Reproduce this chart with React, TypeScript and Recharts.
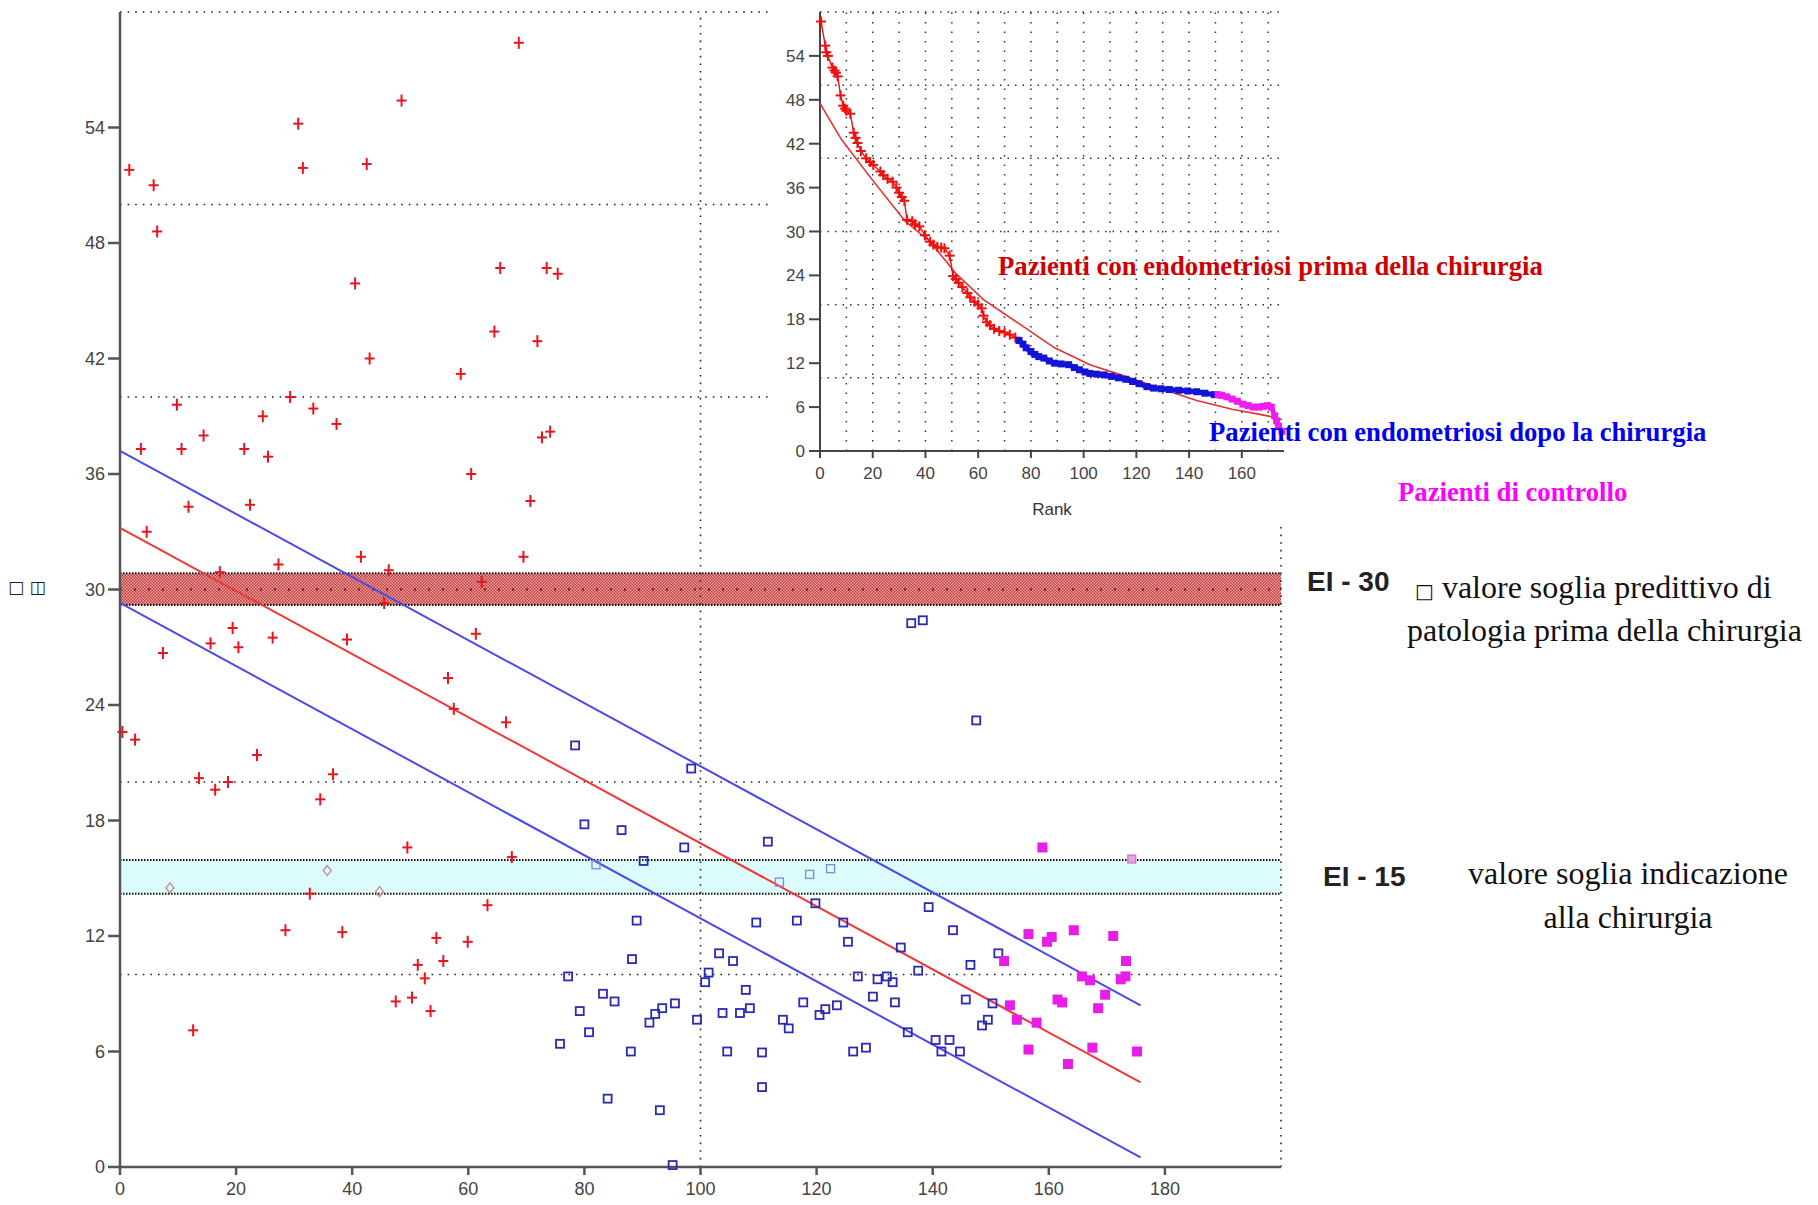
import React from 'react';
import { ScatterChart, Scatter, XAxis, YAxis, ReferenceLine, ReferenceArea } from 'recharts';

type Pt = { x: number; y: number };
const pts = (rows: number[][]): Pt[] => rows.map(([x, y]) => ({ x, y }));

// main plot: patients before surgery (red crosses)
const preSurgery = pts([
  [1.6, 51.8], [5.8, 51.0], [6.4, 48.6], [30.7, 54.2], [31.5, 51.9], [42.5, 52.1], [48.5, 55.4],
  [68.7, 58.4], [40.5, 45.9], [65.5, 46.7], [73.5, 46.7], [75.4, 46.4], [64.5, 43.4], [71.9, 42.9],
  [43.0, 42.0], [58.7, 41.2], [9.8, 39.6], [29.3, 40.0], [37.3, 38.6], [24.6, 39.0], [33.3, 39.4],
  [14.4, 38.0], [3.6, 37.3], [10.6, 37.3], [21.4, 37.3], [25.5, 36.9], [72.7, 37.9], [74.1, 38.2],
  [60.5, 36.0], [11.8, 34.3], [22.4, 34.4], [70.7, 34.6], [4.6, 33.0], [41.5, 31.7], [69.5, 31.7],
  [27.3, 31.3], [17.2, 30.9], [46.3, 31.0], [62.3, 30.4], [45.5, 29.3], [7.4, 26.7], [15.6, 27.2],
  [19.4, 28.0], [20.4, 27.0], [26.3, 27.5], [39.1, 27.4], [61.3, 27.7], [56.5, 25.4], [57.5, 23.8],
  [66.5, 23.1], [0.4, 22.6], [2.6, 22.2], [23.6, 21.4], [13.6, 20.2], [16.4, 19.6], [18.6, 20.0],
  [36.7, 20.4], [34.5, 19.1], [49.5, 16.6], [67.5, 16.1], [63.3, 13.6], [28.5, 12.3], [38.3, 12.2],
  [54.5, 11.9], [59.9, 11.7], [51.3, 10.5], [55.7, 10.7], [52.5, 9.8], [47.5, 8.6], [50.3, 8.8],
  [53.5, 8.1], [12.6, 7.1], [32.7, 14.2],
]);

// patients after surgery (blue open squares)
const postSurgery = pts([
  [78.4, 21.9], [98.4, 20.7], [80.0, 17.8], [86.4, 17.5], [97.2, 16.6], [111.6, 16.9], [89.0, 12.8],
  [109.6, 12.7], [116.6, 12.8], [119.8, 13.7], [124.6, 12.7], [125.4, 11.7], [134.5, 11.4], [139.3, 13.5],
  [143.5, 12.3], [88.2, 10.8], [77.2, 9.9], [103.2, 11.1], [105.6, 10.7], [100.8, 9.6], [101.4, 10.1],
  [107.8, 9.2], [83.2, 9.0], [85.2, 8.6], [79.2, 8.1], [80.8, 7.0], [75.8, 6.4], [88.0, 6.0],
  [91.2, 7.5], [92.2, 7.95], [93.4, 8.25], [95.6, 8.5], [99.4, 7.65], [103.8, 8.0], [104.6, 6.0],
  [106.8, 8.0], [108.5, 8.25], [110.6, 5.95], [114.2, 7.65], [115.2, 7.2], [117.7, 8.55], [120.5, 7.9],
  [121.5, 8.2], [123.5, 8.4], [126.3, 6.0], [128.5, 6.2], [127.1, 9.9], [129.7, 8.85], [130.5, 9.75],
  [132.1, 9.9], [133.1, 9.6], [133.5, 8.55], [135.7, 7.0], [137.5, 10.2], [140.5, 6.6], [141.5, 6.0],
  [142.9, 6.6], [144.7, 6.0], [145.7, 8.7], [146.5, 10.5], [148.5, 7.35], [149.5, 7.65], [150.3, 8.5],
  [151.3, 11.1], [110.6, 4.15], [84.0, 3.55], [93.0, 2.95], [95.2, 0.1], [136.3, 28.25], [138.3, 28.4],
  [147.5, 23.2], [90.2, 15.9],
]);

// control patients (magenta filled squares)
const controls = pts([
  [158.9, 16.6], [156.5, 12.1], [159.7, 11.7], [160.5, 11.95], [164.3, 12.3], [171.1, 12.0], [152.3, 10.7],
  [173.3, 10.7], [165.7, 9.9], [167.1, 9.7], [172.4, 9.75], [173.2, 9.9], [161.5, 8.7], [162.3, 8.55],
  [169.7, 8.95], [168.5, 8.25], [153.3, 8.4], [154.5, 7.65], [157.9, 7.5], [156.5, 6.1], [167.5, 6.2],
  [163.3, 5.35], [175.2, 6.0],
]);

// faded points inside the EI-15 band
const fadedRed = pts([[8.6, 14.5], [35.7, 15.4], [44.7, 14.3]]);
const fadedBlue = pts([[82.0, 15.7], [113.6, 14.8], [118.8, 15.2], [122.4, 15.5]]);
const fadedControl = pts([[174.3, 16.0]]);

// regression line and its bounds
const fitMain = pts([[0, 33.2], [175.8, 4.4]]);
const fitUpper = pts([[0, 37.2], [175.8, 8.4]]);
const fitLower = pts([[0, 29.3], [175.8, 0.5]]);

const mainXTicks = [0, 20, 40, 60, 80, 100, 120, 140, 160, 180];
const mainYTicks = [0, 6, 12, 18, 24, 30, 36, 42, 48, 54];
const mainGridY = [10, 20, 40, 50, 60];
const mainGridX = [100, 200];
const band30 = [29.2, 30.85];
const band15 = [14.2, 15.95];

// inset: ranked values
const rankPre = pts([
  [0.4, 58.7], [2, 55.4], [2.4, 54.5], [3, 54], [4.7, 52.4], [5.5, 52], [6, 51.7], [6.7, 51.2], [7.8, 48.6],
  [8.8, 47.2], [9.5, 46.8], [10, 46.5], [11.5, 46.1], [12.8, 43.5], [13.5, 42.8], [14.2, 42.1], [15.5, 41],
  [17.5, 40], [19, 39.5], [20.2, 39.1], [22.9, 38.2], [24, 37.7], [25.6, 37.2], [27.6, 36.8], [29, 36],
  [30, 35.3], [31, 34.7], [32, 34.2], [33, 31.6], [35, 31.4], [36, 31], [37.7, 30.7], [39.8, 29.5],
  [41.8, 28.6], [43, 28.2], [44.5, 27.9], [46, 27.8], [47.2, 27.7], [49.2, 26.7], [50.5, 23.9], [51.5, 23.5],
  [52.6, 23], [54, 22.4], [55.9, 21.6], [57, 21], [58.6, 20.4], [60, 20], [61.3, 19.5], [62, 18.5],
  [63.3, 17.6], [64.5, 17.2], [66, 16.7], [68, 16.4], [70, 16.2], [72, 15.9], [74.1, 15.5],
]);
const rankPost = pts([
  [75.5, 15.1], [77, 14.6], [78.2, 14.1], [80, 13.6], [81.5, 13.2], [83, 12.9], [84.9, 12.7], [87, 12.3],
  [89, 12.0], [91.5, 11.9], [94.3, 11.8], [96.5, 11.4], [98.4, 11.1], [100.5, 10.8], [102.4, 10.6],
  [105, 10.5], [107.8, 10.4], [110.5, 10.2], [113.2, 10.0], [116, 9.8], [118.6, 9.5], [121, 9.2],
  [124, 8.8], [126.5, 8.6], [129.4, 8.5], [132.5, 8.4], [136.1, 8.3], [139.5, 8.2], [142.9, 8.1],
  [146, 7.9], [149.6, 7.7],
]);
const rankControl = pts([
  [151, 7.7], [152.3, 7.6], [154.3, 7.4], [156.3, 7.1], [158.3, 6.8], [160.4, 6.4], [162.4, 6.2],
  [164.4, 6.0], [166.5, 6.0], [168, 6.1], [169.8, 6.2], [171.2, 6.0], [172.5, 4.8], [173.2, 4.1],
  [173.9, 3.4], [175.2, 2.7],
]);
const rankFit = pts([
  [0, 47.5], [8.1, 42.6], [18.9, 37.5], [32.3, 31.4], [41.8, 28.6], [51.2, 24.4], [62, 20.7], [75.5, 17.4],
  [89, 14.1], [102.4, 11.8], [115.9, 10.2], [129.4, 8.5], [142.9, 6.9], [156.3, 5.7], [169.8, 4.8], [175.2, 4.3],
]);
const insetXTicks = [0, 20, 40, 60, 80, 100, 120, 140, 160];
const insetYTicks = [0, 6, 12, 18, 24, 30, 36, 42, 48, 54];
const insetGridX = [10, 20, 30, 40, 50, 60, 70, 80, 90, 100, 110, 120, 130, 140, 150, 160, 170];
const insetGridY = [10, 20, 30, 40, 50, 60];

const RED = '#e8141e';
const BLUE = '#2a2ab4';
const MAGENTA = '#e81ee8';

const noDot = () => <g />;

const Cross = (p: any) => (
  <g stroke={RED} strokeWidth={2}>
    <line x1={p.cx - 5} x2={p.cx + 5} y1={p.cy} y2={p.cy} />
    <line x1={p.cx} x2={p.cx} y1={p.cy - 6} y2={p.cy + 6} />
  </g>
);
const FadedCross = (p: any) => (
  <g stroke="#c08080" strokeWidth={1.2} fill="none">
    <path d={`M${p.cx} ${p.cy - 5}L${p.cx + 4} ${p.cy}L${p.cx} ${p.cy + 5}L${p.cx - 4} ${p.cy}Z`} />
  </g>
);
const FadedSquare = (p: any) => (
  <rect x={p.cx - 4} y={p.cy - 4} width={8} height={8} fill="none" stroke="#7a8ad8" strokeWidth={1.3} />
);
const FadedMagenta = (p: any) => (
  <rect x={p.cx - 4} y={p.cy - 4} width={8} height={8} fill="#e9a0e9" stroke="#c060c0" strokeWidth={1} />
);
const OpenSquare = (p: any) => (
  <rect x={p.cx - 4} y={p.cy - 4} width={8} height={8} fill="none" stroke={BLUE} strokeWidth={1.8} />
);
const FullSquare = (p: any) => (
  <rect x={p.cx - 5} y={p.cy - 5} width={10} height={10} fill={MAGENTA} />
);
const SmallCross = (p: any) => (
  <g stroke="#ee1010" strokeWidth={2}>
    <line x1={p.cx - 5} x2={p.cx + 5} y1={p.cy} y2={p.cy} />
    <line x1={p.cx} x2={p.cx} y1={p.cy - 5} y2={p.cy + 5} />
  </g>
);
const SmallBlue = (p: any) => (
  <rect x={p.cx - 3.5} y={p.cy - 3.5} width={7} height={7} fill="#1414d8" />
);
const SmallMagenta = (p: any) => (
  <rect x={p.cx - 3.5} y={p.cy - 3.5} width={7} height={7} fill="#f01cf0" />
);

const tickFont = { fontFamily: "'Liberation Sans', Arial, sans-serif", fontSize: 18, fill: '#444' };
const insetTickFont = { fontFamily: "'Liberation Sans', Arial, sans-serif", fontSize: 17, fill: '#444' };

const serif = "'Liberation Serif', 'Times New Roman', serif";
const sans = "'Liberation Sans', Arial, sans-serif";

const MainChart = () => (
  <ScatterChart width={1300} height={1205} margin={{ top: 12, right: 19, bottom: 8, left: 0 }}>
    <defs>
      <pattern id="redHatch" width="3" height="3" patternUnits="userSpaceOnUse">
        <rect width="3" height="3" fill="#eaa8a8" />
        <rect width="1.5" height="1.5" fill="#c23434" />
        <rect x="1.5" y="1.5" width="1.5" height="1.5" fill="#c23434" />
      </pattern>
    </defs>
    <XAxis
      type="number"
      dataKey="x"
      domain={[0, 200]}
      ticks={mainXTicks}
      height={30}
      tickSize={8}
      tickMargin={7}
      tick={tickFont}
      stroke="#555"
      strokeWidth={2.5}
    />
    <YAxis
      type="number"
      dataKey="y"
      domain={[0, 60]}
      ticks={mainYTicks}
      width={120}
      tickSize={12}
      tickMargin={3}
      tick={tickFont}
      stroke="#555"
      strokeWidth={2.5}
    />
    <ReferenceArea y1={band30[0]} y2={band30[1]} fill="url(#redHatch)" fillOpacity={1} stroke="none" />
    <ReferenceArea y1={band15[0]} y2={band15[1]} fill="#dcfbfb" fillOpacity={1} stroke="none" />
    {band30.concat(band15).map((v) => (
      <ReferenceLine key={'b' + v} y={v} stroke="#111" strokeWidth={2} strokeDasharray="1.5 1.5" />
    ))}
    <ReferenceLine y={30} stroke="#7a1010" strokeWidth={2} strokeDasharray="2 12" />
    {mainGridY.map((v) => (
      <ReferenceLine key={'gy' + v} y={v} stroke="#222" strokeWidth={1.6} strokeDasharray="1.6 6" />
    ))}
    {mainGridX.map((v) => (
      <ReferenceLine key={'gx' + v} x={v} stroke="#222" strokeWidth={1.6} strokeDasharray="1.6 6" />
    ))}
    <Scatter data={fitUpper} line={{ stroke: '#4a4ae6', strokeWidth: 2 }} shape={noDot} isAnimationActive={false} />
    <Scatter data={fitLower} line={{ stroke: '#4a4ae6', strokeWidth: 2 }} shape={noDot} isAnimationActive={false} />
    <Scatter data={fitMain} line={{ stroke: '#ee3838', strokeWidth: 2 }} shape={noDot} isAnimationActive={false} />
    <Scatter data={fadedRed} shape={FadedCross} isAnimationActive={false} />
    <Scatter data={fadedBlue} shape={FadedSquare} isAnimationActive={false} />
    <Scatter data={fadedControl} shape={FadedMagenta} isAnimationActive={false} />
    <Scatter data={preSurgery} shape={Cross} isAnimationActive={false} />
    <Scatter data={postSurgery} shape={OpenSquare} isAnimationActive={false} />
    <Scatter data={controls} shape={FullSquare} isAnimationActive={false} />
  </ScatterChart>
);

const InsetChart = () => (
  <ScatterChart width={516} height={527} margin={{ top: 12, right: 3, bottom: 16, left: 0 }}>
    <XAxis
      type="number"
      dataKey="x"
      domain={[0, 176]}
      ticks={insetXTicks}
      height={60}
      tickSize={7}
      tickMargin={9}
      tick={insetTickFont}
      stroke="#444"
      strokeWidth={2}
      label={{ value: 'Rank', position: 'insideBottom', offset: -4, style: { ...insetTickFont, fill: '#333' } }}
    />
    <YAxis
      type="number"
      dataKey="y"
      domain={[0, 60]}
      ticks={insetYTicks}
      width={49}
      tickSize={11}
      tickMargin={4}
      tick={insetTickFont}
      stroke="#444"
      strokeWidth={2}
    />
    {insetGridY.map((v) => (
      <ReferenceLine key={'iy' + v} y={v} stroke="#333" strokeWidth={1.5} strokeDasharray="1.5 6" />
    ))}
    {insetGridX.map((v) => (
      <ReferenceLine key={'ix' + v} x={v} stroke="#333" strokeWidth={1.5} strokeDasharray="1.5 8" />
    ))}
    <Scatter data={rankFit} line={{ stroke: '#e43030', strokeWidth: 1.6 }} shape={noDot} isAnimationActive={false} />
    <Scatter data={rankPre} line={{ stroke: '#ee1010', strokeWidth: 1.4 }} shape={SmallCross} isAnimationActive={false} />
    <Scatter data={rankPost} line={{ stroke: '#1414d8', strokeWidth: 5 }} shape={SmallBlue} isAnimationActive={false} />
    <Scatter data={rankControl} line={{ stroke: '#f01cf0', strokeWidth: 5 }} shape={SmallMagenta} isAnimationActive={false} />
  </ScatterChart>
);

const abs = (left: number, top: number, style: React.CSSProperties = {}): React.CSSProperties => ({
  position: 'absolute',
  left,
  top,
  whiteSpace: 'nowrap',
  lineHeight: 1,
  ...style,
});

export default function App() {
  return (
    <div style={{ position: 'relative', width: 1818, height: 1205, background: '#fff', overflow: 'hidden' }}>
      <style>{'body{margin:0}'}</style>
      <div style={{ position: 'absolute', left: 0, top: 0 }}>
        <MainChart />
      </div>
      <div style={{ position: 'absolute', left: 771, top: 0, width: 516, height: 527, background: '#fff' }}>
        <InsetChart />
      </div>

      <div style={abs(8, 579, { fontFamily: "'DejaVu Sans', sans-serif", fontSize: 17, color: '#222' })}>□ ◫</div>

      <div style={abs(998, 253, { fontFamily: serif, fontWeight: 'bold', fontSize: 26.7, color: '#d00000' })}>
        Pazienti con endometriosi prima della chirurgia
      </div>
      <div style={abs(1209, 419, { fontFamily: serif, fontWeight: 'bold', fontSize: 26.7, color: '#0000ee' })}>
        Pazienti con endometriosi dopo la chirurgia
      </div>
      <div style={abs(1398, 479, { fontFamily: serif, fontWeight: 'bold', fontSize: 26.7, color: '#ff00ff' })}>
        Pazienti di controllo
      </div>

      <div style={abs(1307, 568, { fontFamily: sans, fontWeight: 'bold', fontSize: 28, color: '#222' })}>EI - 30</div>
      <div style={abs(1415, 571, { fontFamily: serif, fontSize: 32, color: '#111' })}>
        <span style={{ fontSize: 20, verticalAlign: 'middle', fontFamily: "'DejaVu Sans', sans-serif" }}>□</span> valore soglia predittivo di
      </div>
      <div style={abs(1407, 614, { fontFamily: serif, fontSize: 32, color: '#111' })}>patologia prima della chirurgia</div>

      <div style={abs(1323, 863, { fontFamily: sans, fontWeight: 'bold', fontSize: 28, color: '#222' })}>EI - 15</div>
      <div style={abs(1448, 857, { fontFamily: serif, fontSize: 32, color: '#111', width: 360, textAlign: 'center' })}>
        valore soglia indicazione
      </div>
      <div style={abs(1448, 901, { fontFamily: serif, fontSize: 32, color: '#111', width: 360, textAlign: 'center' })}>
        alla chirurgia
      </div>
    </div>
  );
}
